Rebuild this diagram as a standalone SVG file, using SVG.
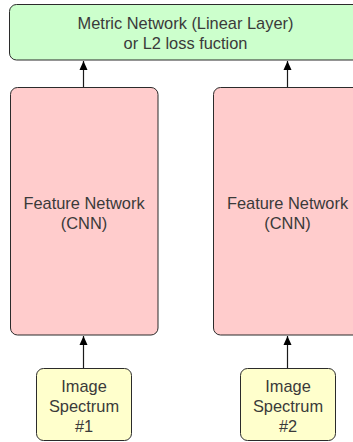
<svg xmlns="http://www.w3.org/2000/svg" width="353" height="442" viewBox="0 0 353 442">
  <style>
    .box { stroke: #2b2b2b; stroke-width: 1; }
    .metric { fill: #ccffcc; }
    .feature { fill: #ffcccc; }
    .input { fill: #ffffcc; }
    .label { font-family: "Liberation Sans", Arial, sans-serif; font-size: 16.4px; fill: #3a3a3a; text-anchor: middle; }
    .edge { stroke: #1a1a1a; stroke-width: 1.2; fill: none; marker-end: url(#head); }
  </style>
  <defs>
    <marker id="head" viewBox="0 0 9 10" refX="9" refY="5" markerWidth="9" markerHeight="10" markerUnits="userSpaceOnUse" orient="auto">
      <path d="M0,1 L9,5 L0,9 Z" fill="#000"/>
    </marker>
  </defs>

  <rect width="353" height="442" fill="#ffffff"/>

  <g id="connectors">
    <line class="edge" x1="83.5" y1="87.5" x2="83.5" y2="61"/>
    <line class="edge" x1="287.5" y1="87.5" x2="287.5" y2="61"/>
    <line class="edge" x1="83.5" y1="368.5" x2="83.5" y2="336"/>
    <line class="edge" x1="287.5" y1="368.5" x2="287.5" y2="336"/>
  </g>

  <g id="metric-network">
    <rect class="box metric" x="9.5" y="4.5" width="354" height="55.5" rx="7"/>
    <text class="label" x="185.5" y="29.3">Metric Network (Linear Layer)</text>
    <text class="label" x="185.5" y="49.3">or L2 loss fuction</text>
  </g>

  <g id="feature-network-1">
    <rect class="box feature" x="10.5" y="87.5" width="147.5" height="247.5" rx="7"/>
    <text class="label" x="84" y="209.3">Feature Network</text>
    <text class="label" x="84" y="229.3">(CNN)</text>
  </g>

  <g id="feature-network-2">
    <rect class="box feature" x="213.5" y="87.5" width="147.5" height="247.5" rx="7"/>
    <text class="label" x="287.5" y="209.3">Feature Network</text>
    <text class="label" x="287.5" y="229.3">(CNN)</text>
  </g>

  <g id="image-spectrum-1">
    <rect class="box input" x="36.5" y="368.5" width="95" height="72" rx="7"/>
    <text class="label" x="84" y="391.7">Image</text>
    <text class="label" x="84" y="411.7">Spectrum</text>
    <text class="label" x="84" y="431.7">#1</text>
  </g>

  <g id="image-spectrum-2">
    <rect class="box input" x="240.5" y="368.5" width="95" height="72" rx="7"/>
    <text class="label" x="288" y="391.7">Image</text>
    <text class="label" x="288" y="411.7">Spectrum</text>
    <text class="label" x="288" y="431.7">#2</text>
  </g>
</svg>
